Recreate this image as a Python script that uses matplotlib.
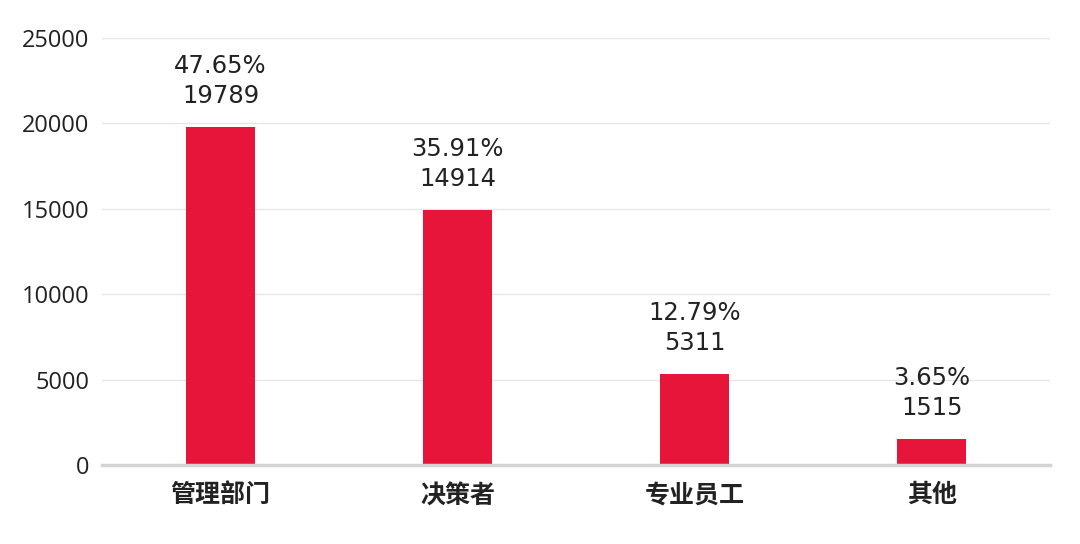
import matplotlib
matplotlib.use("Agg")
import matplotlib.pyplot as plt

plt.rcParams['font.family'] = ['Noto Sans CJK SC', 'DejaVu Sans']

categories = ['管理部门', '决策者', '专业员工', '其他']
counts = [19789, 14914, 5311, 1515]
shares = ['47.65%', '35.91%', '12.79%', '3.65%']
yticks = [0, 5000, 10000, 15000, 20000, 25000]

fig = plt.figure(figsize=(10.8, 5.44), dpi=100)
ax = fig.add_axes([0.0944, 0.145, 0.878, 0.785])

x = range(len(categories))
bars = ax.bar(x, counts, width=0.29, color='#E8153A', zorder=3)

for b, s, c in zip(bars, shares, counts):
    ax.annotate(s + '\n' + str(c), (b.get_x() + b.get_width() / 2, b.get_height()),
                xytext=(0, 14), textcoords='offset points', ha='center', va='bottom',
                fontsize=17.5, family=['DejaVu Sans'], color='#222222', linespacing=1.3)

ax.set_xlim(-0.5, 3.5)
ax.set_ylim(0, 25000)
ax.set_yticks(yticks)
ax.set_yticklabels([str(v) for v in yticks], fontsize=17, family=['Open Sans'], color='#222222')
ax.set_xticks(list(x))
ax.set_xticklabels(categories, fontsize=18, fontweight='bold', color='#222222')
ax.tick_params(axis='both', length=0)
ax.tick_params(axis='y', pad=9)
ax.tick_params(axis='x', pad=13)

ax.grid(axis='y', color='#E6E6E6', linewidth=1, zorder=0)
for sp in ['top', 'right', 'left']:
    ax.spines[sp].set_visible(False)
ax.spines['bottom'].set_color('#D4D4D4')
ax.spines['bottom'].set_linewidth(2.5)
ax.spines['bottom'].set_zorder(4)

fig.savefig('out.png', dpi=100)
